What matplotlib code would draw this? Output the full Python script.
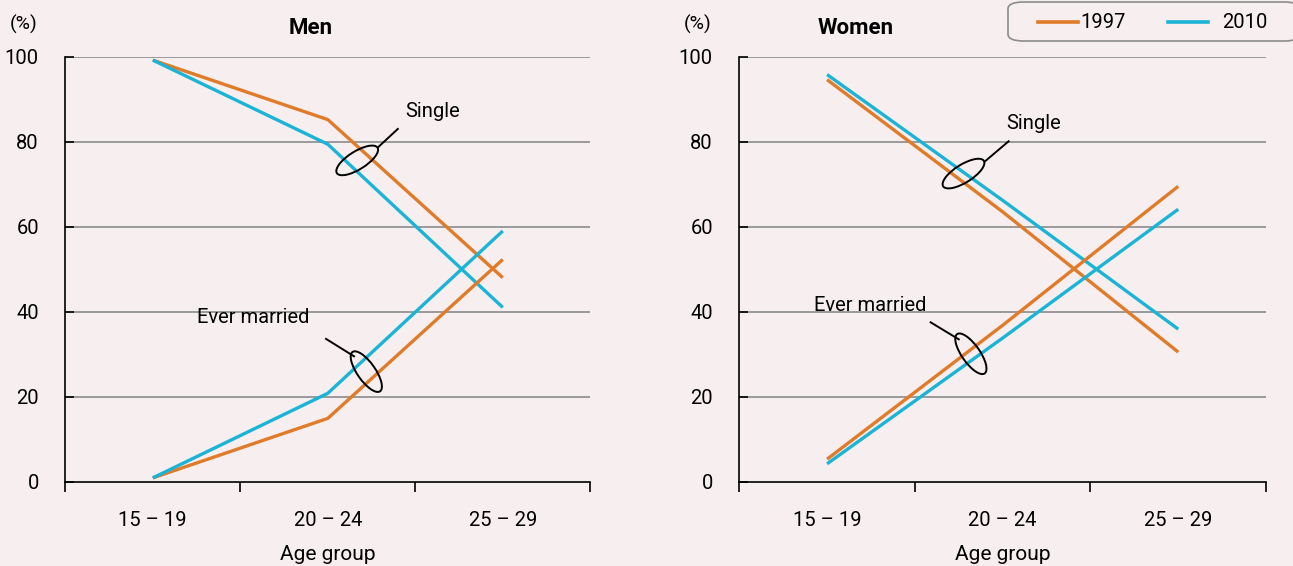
import matplotlib
matplotlib.use("Agg")
import matplotlib.pyplot as plt
from matplotlib.patches import Ellipse, FancyBboxPatch
from matplotlib.lines import Line2D
from matplotlib.transforms import ScaledTranslation

plt.rcParams['font.family'] = ['Roboto', 'DejaVu Sans']

age_groups = ['15 – 19', '20 – 24', '25 – 29']
years = ['1997', '2010']

men_single_1997 = [99.2, 85.2, 48.0]
men_single_2010 = [99.2, 79.4, 41.0]
men_married_1997 = [0.9, 14.9, 52.3]
men_married_2010 = [0.9, 20.8, 59.0]

women_single_1997 = [94.6, 63.5, 30.5]
women_single_2010 = [95.8, 66.2, 35.9]
women_married_1997 = [5.3, 36.8, 69.5]
women_married_2010 = [4.2, 33.8, 64.1]

ORANGE = '#E07B2A'
BLUE = '#1BB4D6'
BG = '#F7EFEF'
GRID = '#8C8C8C'

fig = plt.figure(figsize=(12.93, 5.66), dpi=100, facecolor=BG)

ax_men = fig.add_axes([65.3 / 1293, 1 - 481.7 / 566, (590.3 - 65.3) / 1293, (481.7 - 56.7) / 566])
ax_women = fig.add_axes([739.3 / 1293, 1 - 481.7 / 566, (1266 - 739.3) / 1293, (481.7 - 56.7) / 566])


def ellipse(ax, x, y, w, h, angle):
    # ellipse sized in inches, centred on a data point
    tr = fig.dpi_scale_trans + ScaledTranslation(x, y, ax.transData)
    e = Ellipse((0, 0), w, h, angle=angle, transform=tr, fill=False,
                edgecolor='black', linewidth=1.4, zorder=5)
    ax.add_patch(e)


def setup(ax, title, title_x, single, married, labels):
    ax.set_facecolor(BG)
    x = [0.5, 1.5, 2.5]
    ax.plot(x, single[0], color=ORANGE, lw=2.4, zorder=3, solid_capstyle='butt')
    ax.plot(x, single[1], color=BLUE, lw=2.4, zorder=3, solid_capstyle='butt')
    ax.plot(x, married[0], color=ORANGE, lw=2.4, zorder=3, solid_capstyle='butt')
    ax.plot(x, married[1], color=BLUE, lw=2.4, zorder=3, solid_capstyle='butt')

    ax.set_xlim(0, 3)
    ax.set_ylim(0, 100)
    ax.set_yticks([0, 20, 40, 60, 80, 100])
    for yv in [20, 40, 60, 80, 100]:
        ax.axhline(yv, color=GRID, lw=1.2, zorder=1)
    ax.tick_params(axis='y', direction='in', length=6.5, width=1.2, labelsize=14.5, pad=19)
    ax.set_xticks([0, 1, 2, 3])
    ax.set_xticklabels([])
    ax.set_xticks(x, minor=True)
    ax.set_xticklabels(age_groups, minor=True, fontsize=14.5)
    ax.tick_params(axis='x', which='major', direction='out', length=7, width=1.2)
    ax.tick_params(axis='x', which='minor', length=0, pad=21)
    for s in ['top', 'right']:
        ax.spines[s].set_visible(False)
    ax.spines['left'].set_linewidth(1.2)
    ax.spines['bottom'].set_linewidth(1.2)
    ax.set_xlabel('Age group', fontsize=15, labelpad=11)
    ax.text(-0.052, 1.075, '(%)', transform=ax.transAxes, fontsize=14, ha='right', va='center')
    ax.text(title_x, 1.067, title, transform=ax.transAxes, fontsize=16, fontweight='bold',
            ha='center', va='center')

    for (ex, ey, ang, lx0, ly0, lx1, ly1, tx, ty, txt) in labels:
        ellipse(ax, ex, ey, 0.48, 0.18, ang)
        ax.plot([lx0, lx1], [ly0, ly1], color='black', lw=1.4, zorder=5)
        ax.text(tx, ty, txt, fontsize=14.5, ha='left', va='center')


setup(ax_men, 'Men', 0.467, (men_single_1997, men_single_2010), (men_married_1997, men_married_2010), [
    (1.668, 75.6, 32, 1.79, 78.8, 1.90, 83.0, 1.94, 87.0, 'Single'),
    (1.72, 25.9, -55, 1.49, 33.6, 1.65, 29.5, 0.75, 38.7, 'Ever married'),
])
setup(ax_women, 'Women', 0.22, (women_single_1997, women_single_2010), (women_married_1997, women_married_2010), [
    (1.277, 72.5, 32, 1.40, 75.4, 1.534, 80.1, 1.52, 84.2, 'Single'),
    (1.319, 30.1, -55, 1.09, 37.5, 1.25, 33.5, 0.425, 41.4, 'Ever married'),
])

# legend box
box = FancyBboxPatch((1008 / 1293, 1 - 41 / 566), (1300 - 1008) / 1293, 39 / 566,
                     boxstyle='round,pad=0,rounding_size=0.012', transform=fig.transFigure,
                     facecolor=BG, edgecolor='#8C8C8C', lw=1.2)
fig.patches.append(box)
for x0, x1, col, tx, txt in [(1038, 1078, ORANGE, 1080, years[0]), (1168, 1208, BLUE, 1222, years[1])]:
    fig.lines.append(Line2D([x0 / 1293, x1 / 1293], [1 - 22 / 566] * 2, transform=fig.transFigure,
                            color=col, lw=2.6))
    fig.text(tx / 1293, 1 - 22 / 566, txt, fontsize=14.5, ha='left', va='center')

fig.savefig('out.png', dpi=100, facecolor=BG)
